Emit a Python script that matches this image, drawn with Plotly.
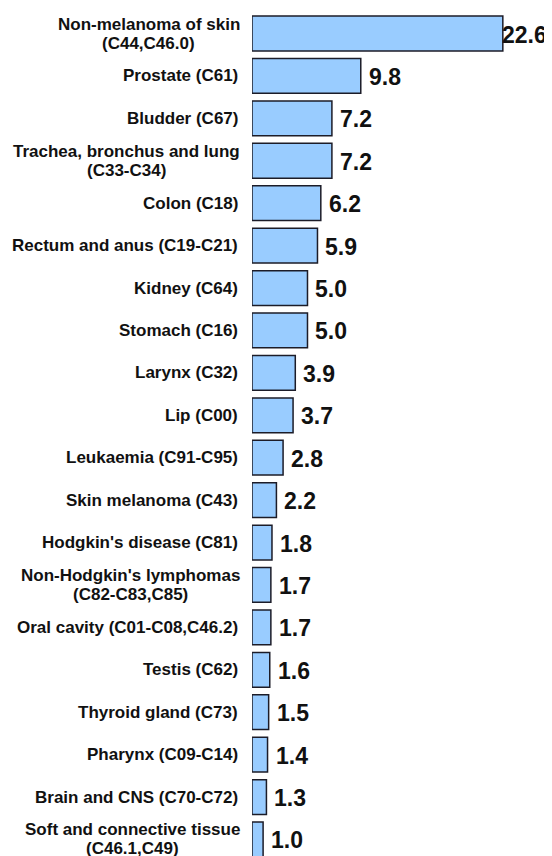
import plotly.graph_objects as go

categories = [
    "Non-melanoma of skin<br>(C44,C46.0)",
    "Prostate (C61)",
    "Bludder (C67)",
    "Trachea, bronchus and lung<br>(C33-C34)",
    "Colon (C18)",
    "Rectum and anus (C19-C21)",
    "Kidney (C64)",
    "Stomach (C16)",
    "Larynx (C32)",
    "Lip (C00)",
    "Leukaemia (C91-C95)",
    "Skin melanoma (C43)",
    "Hodgkin's disease (C81)",
    "Non-Hodgkin's lymphomas<br>(C82-C83,C85)",
    "Oral cavity (C01-C08,C46.2)",
    "Testis (C62)",
    "Thyroid gland (C73)",
    "Pharynx (C09-C14)",
    "Brain and CNS (C70-C72)",
    "Soft and connective tissue<br>(C46.1,C49)",
]
values = [22.6, 9.8, 7.2, 7.2, 6.2, 5.9, 5.0, 5.0, 3.9, 3.7,
          2.8, 2.2, 1.8, 1.7, 1.7, 1.6, 1.5, 1.4, 1.3, 1.0]
value_labels = [f"{v:.1f}" for v in values]

FONT = "Liberation Sans, Arial, sans-serif"
LABEL_SIZE = 17
VALUE_SIZE = 23
LINE_GAP = 19  # px between lines of two-line labels

# Arial/Liberation Sans Bold advance widths (1/1000 em) for centring label lines
_W = {" ": 278, "(": 333, ")": 333, ",": 278, "-": 333, ".": 278, "'": 238}
_W.update({d: 556 for d in "0123456789"})
_W.update(dict(zip("ABCDEFGHIJKLMNOPQRSTUVWXYZ",
                   [722, 722, 722, 722, 667, 611, 778, 722, 278, 556, 722, 611, 833,
                    722, 778, 667, 778, 722, 667, 611, 722, 667, 944, 667, 667, 611])))
_W.update(dict(zip("abcdefghijklmnopqrstuvwxyz",
                   [556, 611, 556, 611, 556, 333, 611, 611, 278, 278, 556, 278, 889,
                    611, 611, 611, 611, 389, 556, 333, 611, 556, 778, 556, 556, 500])))


def text_width(s, size):
    return sum(_W.get(c, 556) for c in s) * size / 1000.0


idx = list(range(len(categories)))

fig = go.Figure(go.Bar(
    x=values,
    y=idx,
    orientation="h",
    marker=dict(color="#99CCFF", line=dict(color="#1c1c28", width=1.5)),
    hoverinfo="skip",
))

label_font = dict(family=FONT, size=LABEL_SIZE, color="#111111", weight="bold")
value_font = dict(family=FONT, size=VALUE_SIZE, color="#111111", weight="bold")
LABEL_PAD = -12

annotations = []
vmax = max(values)
for i, (cat, v, lab) in enumerate(zip(categories, values, value_labels)):
    lines = cat.split("<br>")
    if len(lines) == 1:
        annotations.append(dict(
            x=0, y=i, xref="x", yref="y", text=cat, showarrow=False,
            xanchor="right", yanchor="middle", xshift=LABEL_PAD, yshift=0,
            font=label_font,
        ))
    else:
        widths = [text_width(t, LABEL_SIZE) for t in lines]
        wmax = max(widths)
        for k, t in enumerate(lines):
            ys = LINE_GAP / 2 if k == 0 else -LINE_GAP / 2
            annotations.append(dict(
                x=0, y=i, xref="x", yref="y", text=t, showarrow=False,
                xanchor="center", yanchor="middle",
                xshift=LABEL_PAD - wmax / 2, yshift=ys,
                font=label_font,
            ))
    annotations.append(dict(
        x=v, y=i, xref="x", yref="y", text=lab, showarrow=False,
        xanchor="left", yanchor="middle", xshift=(-3 if v == vmax else 6), yshift=-1,
        font=value_font,
    ))

fig.update_layout(
    width=544, height=848,
    margin=dict(l=244, r=0, t=4, b=0),
    paper_bgcolor="white", plot_bgcolor="white",
    bargap=0.18,
    showlegend=False,
    xaxis=dict(range=[0, 27.03], visible=False, fixedrange=True),
    yaxis=dict(range=[19.39, -0.507], showticklabels=False, showgrid=False,
               zeroline=False, showline=False, ticks="", fixedrange=True),
    annotations=annotations,
)

fig.write_html("out.html")
